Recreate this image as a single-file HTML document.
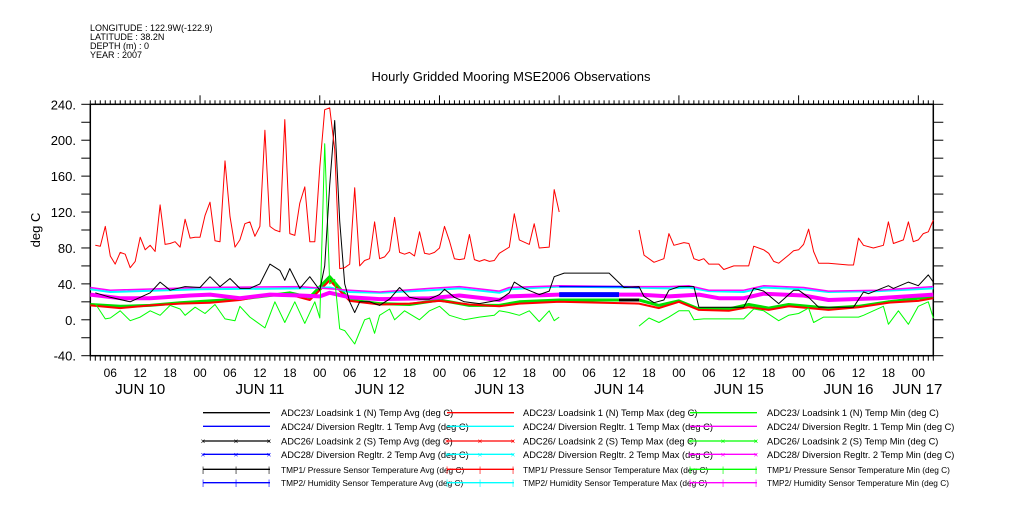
<!DOCTYPE html>
<html><head><meta charset="utf-8">
<style>
html,body{margin:0;padding:0;background:#fff;}
body{width:1009px;height:504px;overflow:hidden;font-family:"Liberation Sans",sans-serif;}
svg text{font-family:"Liberation Sans",sans-serif;}
</style></head>
<body>
<svg id="chart" width="1009" height="504" viewBox="0 0 1009 504" xmlns="http://www.w3.org/2000/svg">
<g font-size="9" fill="#000">
<text x="90" y="31">LONGITUDE : 122.9W(-122.9)</text>
<text x="90" y="40">LATITUDE : 38.2N</text>
<text x="90" y="49">DEPTH (m) : 0</text>
<text x="90" y="58">YEAR : 2007</text>
</g>
<text x="511" y="81" text-anchor="middle" font-size="13">Hourly Gridded Mooring MSE2006 Observations</text>
<text transform="translate(40,230) rotate(-90)" text-anchor="middle" font-size="13">deg C</text>
<g id="axes"></g>
<g id="series"></g>
<g id="legend"></g>
</svg>
<script>
// ---- data (hours since JUN 10 00:00) ----
const yTicks = [240,200,160,120,80,40,0,-40];
const dayLabels = ["JUN 10","JUN 11","JUN 12","JUN 13","JUN 14","JUN 15","JUN 16","JUN 17"];
const dayLabelHours = [12,36,60,84,108,132,154,167.8];
const hourLabels = ["00","06","12","18"];

const redHours = [3,4,5,6,7,8,9,10,11,12,13,14,15,16,17,18,19,20,21,22,23,24,25,26,27,28,29,30,31,32,33,34,35,36,37,38,39,40,41,42,43,44,45,46,47,48,49,50,51,52,53,54,55,56,57,58,59,60,61,62,63,64,65,66,67,68,69,70,71,72,73,74,75,76,77,78,79,80,81,82,83,84,86,87,88,90,91,92,94,95,96,null,112,113,115,117,118,119,121,122,123,124,125,126,128,129,131,134,135,137,138,139,140,142,143,144,145,146,147,148,150,154,155,156,157,159,161,162,163,165,166,167,168,169,170,171];
const redValues = [83,82,104,71,62,75,73,58,65,92,78,83,76,128,84,85,87,81,112,91,92,92,116,131,88,87,177,115,81,89,107,109,93,104,211,104,100,98,223,96,94,130,148,87,87,170,234,236,190,57,58,62,147,60,66,68,109,68,70,77,114,75,73,75,71,98,74,73,75,80,104,88,68,67,68,95,67,65,67,65,66,74,81,118,89,84,107,80,81,145,120,null,100,72,64,68,96,83,86,85,68,66,68,62,62,56,60,60,82,78,74,65,63,72,77,78,84,101,76,63,63,61,61,91,83,80,83,109,85,89,109,87,89,96,98,111];

const blackHours = [3,6,10,14,16,18,21,24,26,28,30,32,34,36,38,40,41,42,44,46,48,49,50,51,52,53,54,55,56,58,60,62,64,66,68,70,72,73,75,77,80,84,86,87,89,92,94,95,97,106,109,112,113,115,117,118,120,122,123,124,133,135,137,140,143,144,146,148,155,157,158,162,163,166,168,170,171];
const blackValues = [30,25,20,30,42,33,37,36,48,37,46,35,35,40,62,55,44,57,35,48,33,60,150,222,110,40,20,8,20,20,16,23,36,25,23,23,28,34,25,20,18,22,30,42,35,28,32,48,52,52,36,37,26,19,22,33,37,37,37,14,14,35,32,18,33,33,25,14,14,31,29,38,35,42,38,50,42];

const greenHours = [3,5,6,8,10,12,14,16,18,20,21,23,25,27,29,31,32,34,35,37,39,41,43,45,47,48,49,50,51,52,53,55,57,58,59,60,62,63,65,68,70,72,74,77,80,83,84,86,88,90,92,94,95,96,null,112,114,116,118,120,122,123,125,131,133,135,137,140,142,144,146,147,149,151,156,157,159,161,162,164,166,168,170,171];
const greenValues = [18,1,2,10,-1,3,10,5,16,12,5,14,7,17,1,-1,15,3,-1,-9,20,-3,20,-4,20,2,196,40,45,-10,-12,-27,0,2,-15,5,12,0,10,0,10,15,5,0,3,5,10,8,5,10,-2,10,-1,3,null,-7,2,-3,3,10,10,0,1,1,1,12,10,-1,5,7,13,-3,3,3,3,5,10,15,-5,10,-5,15,20,2];

const magentaHours = [2,6,24,44,54,60,70,76,84,86,96,110,118,122,126,133,137,145,150,160,171];
const magentaValues = [36,33,36,37,33,31,35,37,32,36,38,37,37,38,33,33,38,36,32,33,37];

const cyanHours = [2,6,24,44,50,54,60,70,76,84,86,96,110,118,122,126,133,137,145,150,160,171];
const cyanValues = [34,31,34,35,36,31,30,33,35,30,34,37,36,35,36,32,31,36,34,31,32,35];

const pinkHours = [2,8,14,22,26,32,38,44,48,50,54,60,70,76,84,86,96,110,112,118,124,128,133,137,145,150,160,171];
const pinkValues = [28,24,24,27,28,24,28,27,26,30,25,23,24,27,22,26,28,28,28,26,28,24,24,29,27,22,24,28];

const blueXHours = [96,100,106,108];
const blueXValues = [28,28,28,28];
const blackXHours = [108,112];
const blackXValues = [22,22];
const blueHours = [96,108,112];
const blueValues = [37,37,36];

const greenXHours = [2,8,14,20,26,32,38,42,46,50,54,60,66,72,78,84,88,96,112,116,120,124,130,134,138,142,150,156,162,168,171];
const greenXValues = [17,15,16,19,21,23,27,30,25,48,22,18,17,22,16,16,20,22,22,16,21,12,12,17,13,17,13,15,20,24,25];
const redXHours = [2,8,14,20,26,32,38,42,46,50,54,60,66,72,78,84,88,96,112,116,120,124,130,134,138,142,150,156,162,168,171];
const redXValues = [16,13,16,18,19,22,28,28,22,44,21,17,18,21,17,15,18,20,18,13,20,11,10,14,11,15,11,14,19,21,24];

// ---- axis functions ----
const X0 = 90.3, X1 = 933.3, Y0 = 104.3, Y1 = 355.7;
const H0 = 2, H1 = 171;
const PXH = (X1 - X0) / (H1 - H0);
function xs(h){ return X0 + (h - H0) * PXH; }
function ys(v){ return Y1 - (v + 40) * (Y1 - Y0) / 280; }
const NS = "http://www.w3.org/2000/svg";
function mk(tag, attrs, parent){
  const e = document.createElementNS(NS, tag);
  for (const k in attrs) e.setAttribute(k, attrs[k]);
  parent.appendChild(e);
  return e;
}
const axes = document.getElementById('axes');
const ser = document.getElementById('series');
const leg = document.getElementById('legend');

let fr = mk('rect', {x:X0, y:Y0, width:X1-X0, height:Y1-Y0, fill:'none', stroke:'#000', 'stroke-width':1.5}, axes);



for (let v = -40; v <= 240; v += 20) {
  const y = ys(v);
  let t = mk('line', {x1:X0-9, x2:X0, y1:y, y2:y, stroke:'#000', 'stroke-width':1}, axes);
  
  
  let t2 = mk('line', {x1:X1, x2:X1+10, y1:y, y2:y, stroke:'#000', 'stroke-width':1}, axes);
  
  
}
yTicks.forEach(v => {
  let l = mk('text', {x:76, y:ys(v)+5, 'text-anchor':'end', 'font-size':13}, axes);
  l.textContent = v + '.';
  
  
});

for (let h = H0; h <= H1; h++) {
  const x = xs(h);
  let bt = mk('line', {x1:x, x2:x, y1:Y1, y2:Y1+5, stroke:'#000', 'stroke-width':1}, axes);
  
  
  const major = (h % 24 === 0);
  let tt = mk('line', {x1:x, x2:x, y1:Y0, y2:Y0 - (major ? 9 : 4), stroke:'#000', 'stroke-width':1}, axes);
  
  
  if (h % 6 === 0) {
    let hl = mk('text', {x:x, y:377, 'text-anchor':'middle', 'font-size':12}, axes);
    hl.textContent = hourLabels[(h % 24) / 6];
    
    
  }
}
dayLabels.forEach((d, i) => {
  let dl = mk('text', {x:xs(dayLabelHours[i]), y:394, 'text-anchor':'middle', 'font-size':15}, axes);
  dl.textContent = d;
  
  
});

function path(hours, vals){
  let d = '', pen = false;
  for (let i = 0; i < hours.length; i++) {
    if (hours[i] === null || vals[i] === null) { pen = false; continue; }
    d += (pen ? 'L' : 'M') + xs(hours[i]).toFixed(1) + ' ' + ys(vals[i]).toFixed(1);
    pen = true;
  }
  return d;
}
function draw(hours, vals, color, w, name){
  let p = mk('path', {d:path(hours, vals), fill:'none', stroke:color, 'stroke-width':w, 'stroke-linejoin':'round'}, ser);
  
  
}
draw(greenXHours, greenXValues, '#00e000', 3, 'series-adc26-min');
draw(redXHours, redXValues, '#ff0000', 2, 'series-adc26-max');
draw(cyanHours, cyanValues, '#00ffff', 2, 'series-adc24-max');
draw(pinkHours, pinkValues, '#ff00ff', 4, 'series-tmp2-min');
draw(magentaHours, magentaValues, '#ff00ff', 1.5, 'series-adc24-min');
draw(blueHours, blueValues, '#0000ff', 1.5, 'series-adc24-avg');
draw(blueXHours, blueXValues, '#0000ff', 5, 'series-adc28-avg');
draw(blackXHours, blackXValues, '#000', 3, 'series-adc26-avg');
draw(greenHours, greenValues, '#00ff00', 1, 'series-adc23-min');
draw(blackHours, blackValues, '#000', 1, 'series-adc23-avg');
draw(redHours, redValues, '#ff0000', 1, 'series-adc23-max');

const legCols = [
  {x:203, tx:281, entries:[
    ['ADC23/ Loadsink 1 (N) Temp Avg (deg C)', '#000', ''],
    ['ADC24/ Diversion Regltr. 1 Temp Avg (deg C)', '#0000ff', ''],
    ['ADC26/ Loadsink 2 (S) Temp Avg (deg C)', '#000', 'x'],
    ['ADC28/ Diversion Regltr. 2 Temp Avg (deg C)', '#0000ff', 'x'],
    ['TMP1/ Pressure Sensor Temperature Avg (deg C)', '#000', '+'],
    ['TMP2/ Humidity Sensor Temperature Avg (deg C)', '#0000ff', '+']]},
  {x:447, tx:523, entries:[
    ['ADC23/ Loadsink 1 (N) Temp Max (deg C)', '#ff0000', ''],
    ['ADC24/ Diversion Regltr. 1 Temp Max (deg C)', '#00ffff', ''],
    ['ADC26/ Loadsink 2 (S) Temp Max (deg C)', '#ff0000', 'x'],
    ['ADC28/ Diversion Regltr. 2 Temp Max (deg C)', '#00ffff', 'x'],
    ['TMP1/ Pressure Sensor Temperature Max (deg C)', '#ff0000', '+'],
    ['TMP2/ Humidity Sensor Temperature Max (deg C)', '#00ffff', '+']]},
  {x:690, tx:767, entries:[
    ['ADC23/ Loadsink 1 (N) Temp Min (deg C)', '#00ff00', ''],
    ['ADC24/ Diversion Regltr. 1 Temp Min (deg C)', '#ff00ff', ''],
    ['ADC26/ Loadsink 2 (S) Temp Min (deg C)', '#00ff00', 'x'],
    ['ADC28/ Diversion Regltr. 2 Temp Min (deg C)', '#ff00ff', 'x'],
    ['TMP1/ Pressure Sensor Temperature Min (deg C)', '#00ff00', '+'],
    ['TMP2/ Humidity Sensor Temperature Min (deg C)', '#ff00ff', '+']]}
];
const rowY = [412.7, 426.3, 441, 454.3, 469.3, 482.7];
legCols.forEach(col => {
  col.entries.forEach((e, i) => {
    const y = rowY[i];
    const g = mk('g', {}, leg);
    
    
    mk('line', {x1:col.x, x2:col.x+67, y1:y, y2:y, stroke:e[1], 'stroke-width':1.3}, g);
    if (e[2]) {
      [col.x, col.x+33, col.x+66].forEach(mx => {
        const t = mk('text', {x:mx, y:y+3, 'text-anchor':'middle', 'font-size':8, fill:e[1]}, g);
        t.textContent = e[2] === 'x' ? '×' : '|';
      });
    }
    const small = e[0].startsWith('TMP');
    const t = mk('text', {x:col.tx, y:y+3.5, 'font-size':small ? 8.3 : 9.3}, g);
    t.textContent = e[0];
  });
});
</script>
</body></html>
